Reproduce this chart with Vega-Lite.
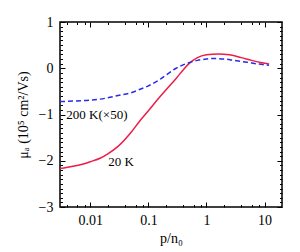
{
  "$schema": "https://vega.github.io/schema/vega-lite/v6.json",
  "width": 222,
  "height": 185,
  "autosize": {"type": "none"},
  "padding": {"left": 60, "top": 22, "right": 18, "bottom": 45},
  "background": "white",
  "config": {
    "view": {"stroke": "black", "strokeWidth": 1.5},
    "text": {"font": "Liberation Serif, Times New Roman, serif"},
    "axis": {
      "labelFont": "Liberation Serif, Times New Roman, serif",
      "labelFontSize": 14,
      "labelColor": "black",
      "titleFont": "Liberation Serif, Times New Roman, serif",
      "titleFontSize": 14,
      "titleFontWeight": "normal",
      "titleColor": "black",
      "tickColor": "black",
      "domain": false,
      "grid": false
    }
  },
  "datasets": {
    "curves": [
      {"series": "20 K", "p": 0.003, "mu": -2.17},
      {"series": "20 K", "p": 0.005, "mu": -2.12},
      {"series": "20 K", "p": 0.007, "mu": -2.08},
      {"series": "20 K", "p": 0.01, "mu": -2.02},
      {"series": "20 K", "p": 0.015, "mu": -1.94},
      {"series": "20 K", "p": 0.02, "mu": -1.85},
      {"series": "20 K", "p": 0.03, "mu": -1.69},
      {"series": "20 K", "p": 0.05, "mu": -1.39},
      {"series": "20 K", "p": 0.07, "mu": -1.15},
      {"series": "20 K", "p": 0.1, "mu": -0.92},
      {"series": "20 K", "p": 0.15, "mu": -0.65},
      {"series": "20 K", "p": 0.2, "mu": -0.47},
      {"series": "20 K", "p": 0.3, "mu": -0.22},
      {"series": "20 K", "p": 0.4, "mu": -0.03},
      {"series": "20 K", "p": 0.5, "mu": 0.1},
      {"series": "20 K", "p": 0.7, "mu": 0.23},
      {"series": "20 K", "p": 1.0, "mu": 0.29},
      {"series": "20 K", "p": 1.6, "mu": 0.31},
      {"series": "20 K", "p": 2.5, "mu": 0.29},
      {"series": "20 K", "p": 4, "mu": 0.23},
      {"series": "20 K", "p": 6, "mu": 0.17},
      {"series": "20 K", "p": 9, "mu": 0.12},
      {"series": "20 K", "p": 12, "mu": 0.09},
      {"series": "200 K", "p": 0.003, "mu": -0.72},
      {"series": "200 K", "p": 0.005, "mu": -0.71},
      {"series": "200 K", "p": 0.01, "mu": -0.69},
      {"series": "200 K", "p": 0.02, "mu": -0.64},
      {"series": "200 K", "p": 0.03, "mu": -0.59},
      {"series": "200 K", "p": 0.05, "mu": -0.53},
      {"series": "200 K", "p": 0.07, "mu": -0.46},
      {"series": "200 K", "p": 0.1, "mu": -0.38},
      {"series": "200 K", "p": 0.15, "mu": -0.26},
      {"series": "200 K", "p": 0.2, "mu": -0.15},
      {"series": "200 K", "p": 0.3, "mu": 0.0},
      {"series": "200 K", "p": 0.5, "mu": 0.12},
      {"series": "200 K", "p": 0.7, "mu": 0.17},
      {"series": "200 K", "p": 1.0, "mu": 0.2},
      {"series": "200 K", "p": 1.3, "mu": 0.21},
      {"series": "200 K", "p": 2, "mu": 0.2},
      {"series": "200 K", "p": 3, "mu": 0.17},
      {"series": "200 K", "p": 5, "mu": 0.13},
      {"series": "200 K", "p": 8, "mu": 0.09},
      {"series": "200 K", "p": 12, "mu": 0.065}
    ],
    "labels": [
      {"label": "200 K(×50)", "p": 0.00386, "mu": -1.0},
      {"label": "20 K", "p": 0.0204, "mu": -2.03}
    ]
  },
  "resolve": {"axis": {"x": "independent", "y": "independent"}},
  "layer": [
    {
      "mark": {"type": "rule", "color": "#888888", "strokeWidth": 1},
      "encoding": {"y": {"datum": 0, "type": "quantitative", "scale": {"domain": [-3, 1]}, "axis": null}}
    },
    {
      "data": {"name": "curves"},
      "transform": [{"filter": "datum.series == '20 K'"}],
      "mark": {"type": "line", "color": "#ee1c48", "strokeWidth": 1.5, "interpolate": "monotone"},
      "encoding": {
        "x": {"field": "p", "type": "quantitative", "scale": {"type": "log", "domain": [0.003, 20], "nice": false},
          "axis": {"orient": "bottom", "values": [0.01, 0.1, 1, 10], "format": "~g", "tickSize": -5, "labelPadding": 11, "title": "p/n₀", "titlePadding": 4}},
        "y": {"field": "mu", "type": "quantitative", "scale": {"domain": [-3, 1], "nice": false},
          "axis": {"orient": "left", "values": [-3, -2, -1, 0, 1], "tickSize": -5, "labelPadding": 12, "title": "μₐ (10⁵ cm²/Vs)", "titlePadding": 8}}
      }
    },
    {
      "data": {"name": "curves"},
      "transform": [{"filter": "datum.series == '200 K'"}],
      "mark": {"type": "line", "color": "#2a2ae8", "strokeWidth": 1.5, "strokeDash": [5, 3], "interpolate": "monotone"},
      "encoding": {
        "x": {"field": "p", "type": "quantitative",
          "axis": {"orient": "bottom", "values": [0.004, 0.006, 0.008, 0.02, 0.04, 0.06, 0.08, 0.2, 0.4, 0.6, 0.8, 2, 4, 6, 8], "tickSize": -2.5, "labels": false, "title": null}},
        "y": {"field": "mu", "type": "quantitative",
          "axis": {"orient": "left", "values": [-2.9, -2.8, -2.7, -2.6, -2.5, -2.4, -2.3, -2.2, -2.1, -1.9, -1.8, -1.7, -1.6, -1.5, -1.4, -1.3, -1.2, -1.1, -0.9, -0.8, -0.7, -0.6, -0.5, -0.4, -0.3, -0.2, -0.1, 0.1, 0.2, 0.3, 0.4, 0.5, 0.6, 0.7, 0.8, 0.9], "tickSize": -2.5, "labels": false, "title": null}}
      }
    },
    {
      "data": {"name": "labels"},
      "transform": [{"filter": "datum.label == '200 K(×50)'"}],
      "mark": {"type": "text", "align": "left", "baseline": "middle", "fontSize": 13, "color": "black"},
      "encoding": {
        "x": {"field": "p", "type": "quantitative",
          "axis": {"orient": "top", "values": [0.01, 0.1, 1, 10], "tickSize": -5, "labels": false, "title": null}},
        "y": {"field": "mu", "type": "quantitative",
          "axis": {"orient": "right", "values": [-3, -2, -1, 0, 1], "tickSize": -5, "labels": false, "title": null}},
        "text": {"field": "label"}
      }
    },
    {
      "data": {"name": "labels"},
      "transform": [{"filter": "datum.label == '20 K'"}],
      "mark": {"type": "text", "align": "left", "baseline": "middle", "fontSize": 13, "color": "black"},
      "encoding": {
        "x": {"field": "p", "type": "quantitative",
          "axis": {"orient": "top", "values": [0.004, 0.006, 0.008, 0.02, 0.04, 0.06, 0.08, 0.2, 0.4, 0.6, 0.8, 2, 4, 6, 8], "tickSize": -2.5, "labels": false, "title": null}},
        "y": {"field": "mu", "type": "quantitative",
          "axis": {"orient": "right", "values": [-2.9, -2.8, -2.7, -2.6, -2.5, -2.4, -2.3, -2.2, -2.1, -1.9, -1.8, -1.7, -1.6, -1.5, -1.4, -1.3, -1.2, -1.1, -0.9, -0.8, -0.7, -0.6, -0.5, -0.4, -0.3, -0.2, -0.1, 0.1, 0.2, 0.3, 0.4, 0.5, 0.6, 0.7, 0.8, 0.9], "tickSize": -2.5, "labels": false, "title": null}},
        "text": {"field": "label"}
      }
    }
  ]
}
